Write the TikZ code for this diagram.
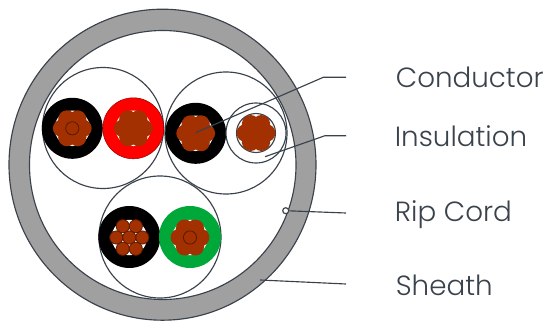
\documentclass[tikz,border=0pt]{standalone}
\usepackage{fontspec}
\setmainfont[UprightFont=* Light]{Poppins}
\usetikzlibrary{calc,shapes.geometric}
\definecolor{edgegray}{HTML}{3A424C}
\definecolor{copperred}{HTML}{A33000}
\definecolor{sheathgray}{HTML}{A0A0A0}
\definecolor{coregreen}{HTML}{00A83A}
\tikzset{
  ring/.style={circle, draw=edgegray, line width=0.65pt, inner sep=0pt, minimum size=#1*0.02cm},
  shell/.style={ellipse, draw=edgegray, line width=0.65pt, inner sep=0pt},
  core/.style={circle, fill=#1, inner sep=0pt, minimum size=61*0.02cm},
  hole/.style={circle, fill=white, inner sep=0pt, minimum size=35.5*0.02cm},
  strand/.style={circle, fill=copperred, inner sep=0pt, minimum size=17.6*0.02cm},
  wire/.style={circle, fill=copperred, draw=copperred!55!black, line width=0.45pt, inner sep=0pt, minimum size=13.2*0.02cm},
  leader/.style={draw=edgegray, line width=0.65pt},
  tag/.style={anchor=base west, text=edgegray, font=\fontsize{15.8pt}{17pt}\selectfont, inner sep=0pt},
}
% six strands round a centre strand
\newcommand{\flower}[4]{
  \foreach \ang in {0,60,...,300}
    \node[#3] at ($(#1,#2)+(\ang:#4 and -#4)$) {};
  \node[#3] at (#1,#2) {};
}
\begin{document}
\begin{tikzpicture}[x=0.02cm, y=-0.02cm]
        \useasboundingbox (0,0) rectangle (545,321);

        % Sheath
        \node[shell, fill=sheathgray, minimum width=307*0.02cm, minimum height=311*0.02cm] at (162.5,164.7)  (sheath)  {};
        \node[shell, fill=white, minimum width=266.5*0.02cm, minimum height=269*0.02cm] at (162.75,165)  (inner)  {};

        % Groups
        \node[ring=121] at (103,128)  (groupa)  {};
        \node[ring=122] at (226,133)  (groupb)  {};
        \node[ring=122] at (160,237)  (groupc)  {};

        % Cores
        \node[core=black] at (72.3,128.3)  (blacka)  {};
        \node[core=red, draw=red!60!black, line width=0.3pt] at (133.3,128.3)  (redcore)  {};
        \node[core=black] at (195.7,133.3)  (blackb)  {};
        \node[ring=60, fill=white] at (256,133)  (whitecore)  {};
        \node[core=black, minimum size=62*0.02cm] at (129.3,237)  (blackc)  {};
        \node[core=coregreen, minimum size=62*0.02cm] at (190,237)  (greencore)  {};

        % Strands
        \foreach \cx/\cy in {72.3/128.3, 133.3/128.3, 195.7/133.3, 190/237.5}{
          \node[hole] at (\cx,\cy) {};
          \flower{\cx}{\cy}{strand}{10.6}
        }
        \node[ring=39] at (256,133)  (whitewire)  {};
        \flower{256}{133}{strand}{10.6}
        \node[wire, fill=none] at (72.3,128.3)  (wirea)  {};
        \node[wire, fill=none] at (190,237.5)  (wireb)  {};
        \node[hole] at (129.3,237.5)  (holec)  {};
        \flower{129.3}{237.5}{wire}{13}

        % Rip cord
        \node[ring=6, fill=white] at (285.7,210.7)  (rip)  {};

        % Labels
        \node[tag] at (395.5,87.7)  (conductor)  {Conductor};
        \node[tag] at (394.5,146.7)  (insulation)  {Insulation};
        \node[tag] at (394.5,221.5)  (ripcord)  {Rip Cord};
        \node[tag] at (395.5,295)  (sheathtag)  {Sheath};

        % Leaders
        \coordinate (c1) at (195.7,132.7);
        \coordinate (c2) at (323.3,77.3);
        \coordinate (c3) at (346,77.3);
        \coordinate (i1) at (265,156.7);
        \coordinate (i2) at (325,135.7);
        \coordinate (i3) at (346,135.7);
        \coordinate (r2) at (346,213);
        \coordinate (s1) at (260,280);
        \coordinate (s2) at (346,284);
        \draw[leader] (c1) -- (c2) -- (c3);
        \draw[leader] (i1) -- (i2) -- (i3);
        \draw[leader] (rip) -- (r2);
        \draw[leader] (s1) -- (s2);
    \end{tikzpicture}
\end{document}
